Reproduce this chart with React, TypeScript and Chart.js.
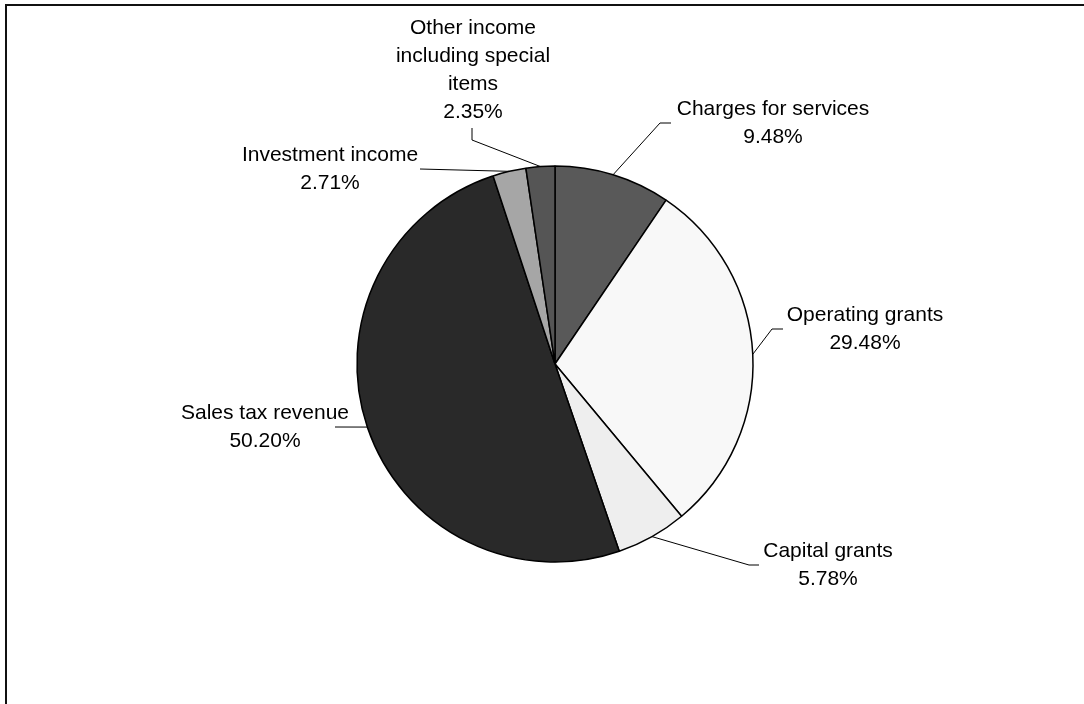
import React, { useEffect, useRef } from "react";
import { Chart, registerables } from "chart.js";

Chart.register(...registerables);

const categories = [
  "Charges for services",
  "Operating grants",
  "Capital grants",
  "Sales tax revenue",
  "Investment income",
  "Other income including special items",
];
const values = [9.48, 29.48, 5.78, 50.2, 2.71, 2.35];
const labelLines = [
  ["Charges for services", "9.48%"],
  ["Operating grants", "29.48%"],
  ["Capital grants", "5.78%"],
  ["Sales tax revenue", "50.20%"],
  ["Investment income", "2.71%"],
  ["Other income", "including special", "items", "2.35%"],
];
const colors = ["#595959", "#f8f8f8", "#eeeeee", "#292929", "#a6a6a6", "#555555"];

// label placement relative to the pie centre: elbow, line end, text centre
const labelLayout = [
  { ex: 105, ey: -241, lx: 116, ly: -241, tx: 218, ty: -241 },
  { ex: 217, ey: -35, lx: 228, ly: -35, tx: 310, ty: -35 },
  { ex: 194, ey: 201, lx: 204, ly: 201, tx: 273, ty: 201 },
  { ex: -220, ey: 63, lx: -220, ly: 63, tx: -290, ty: 63 },
  { ex: -135, ey: -195, lx: -135, ly: -195, tx: -225, ty: -195 },
  { ex: -83, ey: -224, lx: -83, ly: -236, tx: -82, ty: -294 },
];

const FONT = '21px "Liberation Sans", Arial, sans-serif';
const LINE_H = 28;

const labelPlugin = {
  id: "pieLabels",
  afterDatasetsDraw(chart: any) {
    const ctx = chart.ctx;
    const meta = chart.getDatasetMeta(0);
    ctx.save();
    meta.data.forEach((arc: any, i: number) => {
      const p = arc.getProps(["x", "y", "startAngle", "endAngle", "outerRadius"], true);
      const mid = (p.startAngle + p.endAngle) / 2;
      const ax = p.x + Math.cos(mid) * p.outerRadius;
      const ay = p.y + Math.sin(mid) * p.outerRadius;
      const L = labelLayout[i];
      ctx.strokeStyle = "#000";
      ctx.lineWidth = 1;
      ctx.beginPath();
      ctx.moveTo(ax, ay);
      ctx.lineTo(p.x + L.ex, p.y + L.ey);
      ctx.lineTo(p.x + L.lx, p.y + L.ly);
      ctx.stroke();
      const lines = labelLines[i];
      ctx.fillStyle = "#000";
      ctx.font = FONT;
      ctx.textAlign = "center";
      ctx.textBaseline = "middle";
      const top = p.y + L.ty - ((lines.length - 1) * LINE_H) / 2;
      lines.forEach((t, k) => ctx.fillText(t, p.x + L.tx, top + k * LINE_H));
    });
    ctx.restore();
  },
};

export default function App() {
  const ref = useRef<HTMLCanvasElement>(null);
  useEffect(() => {
    if (!ref.current) return;
    const chart = new Chart(ref.current, {
      type: "pie",
      data: {
        labels: categories,
        datasets: [
          {
            data: values,
            backgroundColor: colors,
            borderColor: "#000",
            borderWidth: 1.5,
          },
        ],
      },
      options: {
        animation: false,
        responsive: false,
        radius: 198,
        layout: { padding: { left: 126, right: 100, top: 124, bottom: 100 } },
        plugins: { legend: { display: false }, tooltip: { enabled: false } },
      } as any,
      plugins: [labelPlugin],
    });
    return () => chart.destroy();
  }, []);
  return (
    <div style={{ position: "absolute", left: 0, top: 0, width: 1084, height: 704, overflow: "hidden", background: "#fff" }}>
      <div
        style={{
          position: "absolute",
          left: 5,
          top: 4,
          width: 1200,
          height: 800,
          borderTop: "2px solid #111",
          borderLeft: "2px solid #111",
        }}
      />
      <canvas ref={ref} width={1084} height={704} style={{ position: "absolute", left: 0, top: 0 }} />
    </div>
  );
}
